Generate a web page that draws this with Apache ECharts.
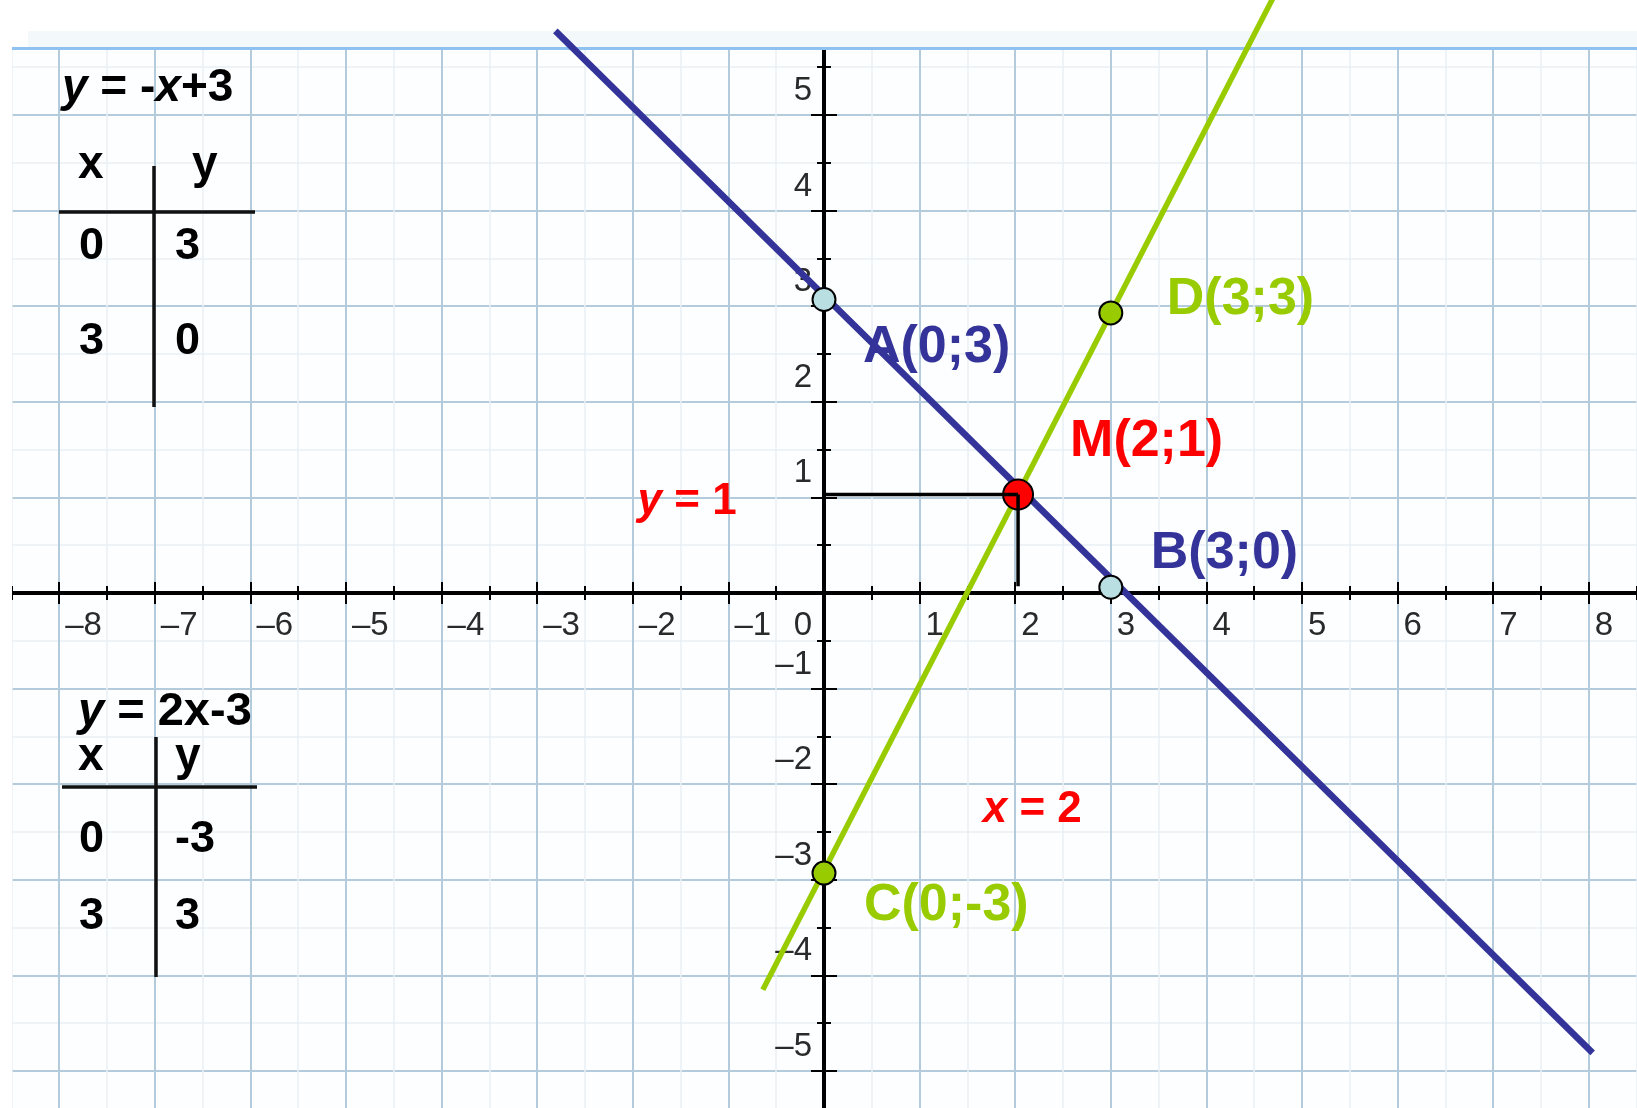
<!DOCTYPE html>
<html>
<head>
<meta charset="utf-8">
<title>y = -x+3 и y = 2x-3</title>
<script src="https://cdn.jsdelivr.net/npm/echarts@6/dist/echarts.min.js"></script>
<style>
  html, body { margin: 0; padding: 0; background: #fff; }
  #chart { width: 1637px; height: 1108px; }
</style>
</head>
<body>
<div id="chart"></div>
<script>
// данные
var blueLine = [[-2.81, 5.88], [8.04, -4.81]];     // y = -x+3
var greenLine = [[-0.64, -4.15], [4.9, 6.62]];     // y = 2x-3
var guideY = [[0, 1.03], [2.03, 1.03]];            // y = 1
var guideX = [[2.03, 1.03], [2.03, 0.07]];         // x = 2

var pointNames = ['A(0;3)', 'B(3;0)', 'C(0;-3)', 'D(3;3)', 'M(2;1)'];
var pointX = [0, 3, 0, 3, 2.03];
var pointY = [3.07, 0.06, -2.93, 2.93, 1.03];

var noteTexts = ['{i|y} = 1', '{i|x} = 2'];
var noteX = [-1.95, 1.66];
var noteY = [0.95, -2.27];

var tableBlueX = ['0', '3'];
var tableBlueY = ['3', '0'];
var tableGreenX = ['0', '3'];
var tableGreenY = ['-3', '3'];

var FONT = '"Liberation Sans", Arial, sans-serif';
var BLUE = '#333399', GREEN = '#99cc00', RED = '#ff0000';

// сетка: центр (824, 593), клетка 95.6 px
var GRID = { left: -36.4, right: -47.4, top: 19.4, bottom: -58.6 };
var OFF_X = -573.6, OFF_Y = -860.4;

// стили точек и подписей
var pointStyle = [
  { fill: '#b9dfe3', size: 23, color: BLUE, offset: [39, 48] },
  { fill: '#b9dfe3', size: 23, color: BLUE, offset: [40, -34] },
  { fill: GREEN, size: 23, color: GREEN, offset: [40, 33] },
  { fill: GREEN, size: 23, color: GREEN, offset: [56, -13] },
  { fill: RED, size: 30, color: RED, offset: [52, -53] }
];

var pointData = pointNames.map(function (name, i) {
  var s = pointStyle[i];
  return {
    name: name,
    value: [pointX[i], pointY[i]],
    symbolSize: s.size,
    itemStyle: { color: s.fill, borderColor: '#000', borderWidth: 2, opacity: 1 },
    label: { color: s.color, offset: s.offset }
  };
});

var noteData = noteTexts.map(function (t, i) {
  return { name: t, value: [noteX[i], noteY[i]] };
});

function minus(v) {
  return v < 0 ? '\u2013' + (-v) : '' + v;
}

// таблицы значений в левом углу
function tableGraphics(formula, top, xs, ys, rows, lines) {
  var els = [];
  var textStyle = function (txt, x, y, size) {
    return {
      type: 'text', z: 1, silent: true, x: x, y: y,
      style: {
        text: txt, font: 'bold ' + size + 'px ' + FONT, fill: '#000',
        align: 'left', verticalAlign: 'middle'
      }
    };
  };
  var f = textStyle(formula.text, formula.x, formula.y, formula.size);
  f.style.rich = { i: { fontStyle: 'italic', fontWeight: 'bold', fontSize: formula.size, fontFamily: FONT } };
  els.push(f);
  els.push(textStyle('x', top.xLeft, top.y, 46));
  els.push(textStyle('y', top.yLeft, top.y, 46));
  xs.forEach(function (v, i) {
    els.push(textStyle(v, 79, rows[i], 45));
    els.push(textStyle(ys[i], 175, rows[i], 45));
  });
  els.push({ type: 'line', z: 1, silent: true, shape: lines.h, style: { stroke: '#111', lineWidth: 3.5 } });
  els.push({ type: 'line', z: 1, silent: true, shape: lines.v, style: { stroke: '#111', lineWidth: 3.5 } });
  return els;
}

var graphics = [
  { type: 'rect', z: 1, silent: true, shape: { x: 0, y: 0, width: 1637, height: 49 }, style: { fill: '#fff' } },
  { type: 'rect', z: 1, silent: true, shape: { x: 28, y: 31, width: 1609, height: 17 }, style: { fill: '#f3f8fa' } },
  { type: 'rect', z: 1, silent: true, shape: { x: 0, y: 49, width: 12, height: 1059 }, style: { fill: '#fff' } },
  { type: 'rect', z: 1, silent: true, shape: { x: 12, y: 47, width: 1625, height: 3 }, style: { fill: '#8fc1f1' } }
].concat(
  tableGraphics({ text: '{i|y} = -{i|x}+3', x: 62, y: 88, size: 46 },
    { xLeft: 78, yLeft: 192, y: 165 }, tableBlueX, tableBlueY, [247, 342],
    { h: { x1: 59, y1: 212, x2: 255, y2: 212 }, v: { x1: 154, y1: 166, x2: 154, y2: 407 } }),
  tableGraphics({ text: '{i|y} = 2x-3', x: 78, y: 712, size: 47 },
    { xLeft: 78, yLeft: 175, y: 757 }, tableGreenX, tableGreenY, [840, 917],
    { h: { x1: 62, y1: 787, x2: 257, y2: 787 }, v: { x1: 156, y1: 737, x2: 156, y2: 977 } })
);

var tickStyle = { color: '#000', width: 2 };
var axisLineStyle = { color: '#000', width: 4 };
var chart = echarts.init(document.getElementById('chart'));

var option = {
  animation: false,
  backgroundColor: '#fff',
  grid: {
    left: GRID.left, right: GRID.right, top: GRID.top, bottom: GRID.bottom,
    outerBoundsMode: 'none', containLabel: false,
    show: true, backgroundColor: '#fcfeff', borderWidth: 0
  },
  xAxis: [{
    type: 'value', min: -9, max: 9, interval: 1, position: 'bottom', offset: OFF_X,
    axisLine: { onZero: false, lineStyle: axisLineStyle },
    axisTick: { length: 11, lineStyle: tickStyle },
    minorTick: { show: true, splitNumber: 2, length: 7, lineStyle: tickStyle },
    splitLine: { lineStyle: { color: '#b4cbdb', width: 2 } },
    minorSplitLine: { show: true, lineStyle: { color: '#e7eff4', width: 1.5 } },
    axisLabel: {
      margin: 16, align: 'left', padding: [0, 0, 0, 6],
      fontFamily: FONT, fontSize: 33, color: '#2a2a2a',
      formatter: function (v) { return (v === 0 || Math.abs(v) > 8) ? '' : minus(v); }
    }
  }, {
    type: 'value', min: -9, max: 9, interval: 1, position: 'top', offset: OFF_X,
    axisLine: { onZero: false, lineStyle: axisLineStyle },
    axisTick: { length: 11, lineStyle: tickStyle },
    minorTick: { show: true, splitNumber: 2, length: 7, lineStyle: tickStyle },
    splitLine: { show: false },
    axisLabel: { show: false }
  }],
  yAxis: [{
    type: 'value', min: -6, max: 6, interval: 1, position: 'left', offset: OFF_Y,
    axisLine: { onZero: false, lineStyle: axisLineStyle },
    axisTick: { length: 13, lineStyle: tickStyle },
    minorTick: { show: true, splitNumber: 2, length: 7, lineStyle: tickStyle },
    splitLine: { lineStyle: { color: '#b4cbdb', width: 2 } },
    minorSplitLine: { show: true, lineStyle: { color: '#e7eff4', width: 1.5 } },
    axisLabel: {
      margin: 12, verticalAlign: 'bottom', lineHeight: 48,
      fontFamily: FONT, fontSize: 33, color: '#2a2a2a',
      formatter: function (v) { return (v === 0 || Math.abs(v) > 5) ? '' : minus(v); }
    }
  }, {
    type: 'value', min: -6, max: 6, interval: 1, position: 'right', offset: OFF_Y,
    axisLine: { onZero: false, lineStyle: axisLineStyle },
    axisTick: { length: 13, lineStyle: tickStyle },
    minorTick: { show: true, splitNumber: 2, length: 7, lineStyle: tickStyle },
    splitLine: { show: false },
    axisLabel: { show: false }
  }],
  graphic: graphics,
  series: [
    {
      name: 'y = -x+3', type: 'line', data: blueLine, showSymbol: false, clip: false, z: 2,
      lineStyle: { color: BLUE, width: 6.5 }
    },
    {
      name: 'y = 2x-3', type: 'line', data: greenLine, showSymbol: false, clip: false, z: 2,
      lineStyle: { color: GREEN, width: 5.5 }
    },
    {
      name: 'точки', type: 'scatter', data: pointData, z: 4,
      label: {
        show: true, position: 'inside', align: 'left', verticalAlign: 'middle',
        formatter: '{b}', fontFamily: FONT, fontWeight: 'bold', fontSize: 52
      }
    },
    {
      name: 'y = 1', type: 'line', data: guideY, showSymbol: false, z: 5,
      lineStyle: { color: '#000', width: 3.5 }
    },
    {
      name: 'x = 2', type: 'line', data: guideX, showSymbol: false, z: 5,
      lineStyle: { color: '#000', width: 3.5 }
    },
    {
      name: 'подписи', type: 'scatter', data: noteData, z: 5, symbolSize: 1,
      itemStyle: { color: 'transparent', opacity: 1 },
      label: {
        show: true, position: 'inside', align: 'left', verticalAlign: 'middle',
        formatter: '{b}', fontFamily: FONT, fontWeight: 'bold', fontSize: 44, color: RED,
        rich: { i: { fontStyle: 'italic', fontWeight: 'bold', fontSize: 44, fontFamily: FONT, color: RED } }
      }
    },
    {
      name: 'начало', type: 'scatter', data: [[0, 0]], z: 3, symbolSize: 1,
      itemStyle: { color: 'transparent', opacity: 1 },
      label: {
        show: true, position: 'inside', align: 'right', verticalAlign: 'middle',
        offset: [-12, 33], formatter: '0', fontFamily: FONT, fontSize: 33, color: '#2a2a2a'
      }
    }
  ]
};

chart.setOption(option);
</script>
</body>
</html>
